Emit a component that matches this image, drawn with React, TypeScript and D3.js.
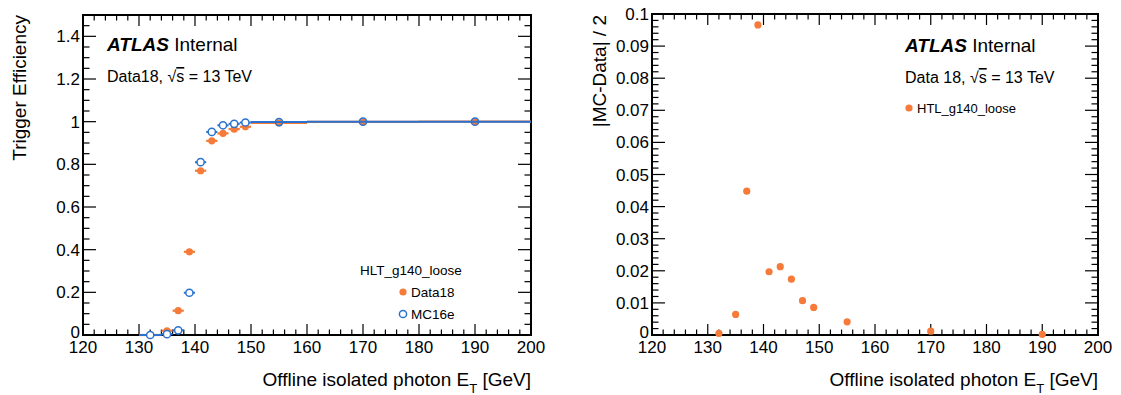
import * as d3 from 'd3';

// bins in offline photon E_T [GeV]
const binCenters = [132, 135, 137, 139, 141, 143, 145, 147, 149, 155, 170, 190];
const binLow = [130, 134, 136, 138, 140, 142, 144, 146, 148, 150, 160, 180];
const binHigh = [134, 136, 138, 140, 142, 144, 146, 148, 150, 160, 180, 200];

// trigger efficiencies
const effData18 = [0.0, 0.02, 0.114, 0.39, 0.77, 0.91, 0.945, 0.965, 0.976, 0.994, 0.999, 1.0];
const effMC16e = [0.0, 0.004, 0.022, 0.198, 0.81, 0.952, 0.983, 0.99, 0.996, 0.998, 1.0, 1.0];

// |MC - Data| / 2
const halfDiff = [0.0005, 0.0064, 0.0448, 0.0966, 0.0197, 0.0213, 0.0174, 0.0107, 0.0086, 0.0041, 0.0012, 0.0002];

const leftYTicks = [0, 0.2, 0.4, 0.6, 0.8, 1, 1.2, 1.4];
const rightYTicks = [0, 0.01, 0.02, 0.03, 0.04, 0.05, 0.06, 0.07, 0.08, 0.09, 0.1];
const xTicks = [120, 130, 140, 150, 160, 170, 180, 190, 200];

const ORANGE = '#f67b3b';
const BLUE = '#2a72cf';
const FONT = '"Liberation Sans", Arial, Helvetica, sans-serif';

type FrameProps = {
  x: d3.ScaleLinear<number, number>;
  y: d3.ScaleLinear<number, number>;
  yTicks: number[];
  yMinorStep: number;
  yFmt: (v: number) => string;
};

// ROOT-style frame: ticks on all four sides, pointing inward
const Frame = ({ x, y, yTicks, yMinorStep, yFmt }: FrameProps) => {
  const [x0, x1] = x.range();
  const [y0, y1] = y.range();
  const [ymin, ymax] = y.domain();
  const xMinor = d3.range(120, 200.001, 2);
  const yMinor = d3.range(ymin, ymax + yMinorStep * 0.01, yMinorStep);
  const isMajorX = (v: number) => Math.abs(v % 10) < 1e-6;
  const isMajorY = (v: number) => yTicks.some((t) => Math.abs(t - v) < yMinorStep * 0.01);
  return (
    <g>
      {xMinor.map((v) => {
        const len = isMajorX(v) ? 11 : 5.5;
        return (
          <g key={'xt' + v} stroke="black" strokeWidth={1.2}>
            <line x1={x(v)} x2={x(v)} y1={y0} y2={y0 - len} />
            <line x1={x(v)} x2={x(v)} y1={y1} y2={y1 + len} />
          </g>
        );
      })}
      {yMinor.map((v, i) => {
        const len = isMajorY(v) ? 13 : 6.5;
        return (
          <g key={'yt' + i} stroke="black" strokeWidth={1.2}>
            <line x1={x0} x2={x0 + len} y1={y(v)} y2={y(v)} />
            <line x1={x1} x2={x1 - len} y1={y(v)} y2={y(v)} />
          </g>
        );
      })}
      <rect x={x0} y={y1} width={x1 - x0} height={y0 - y1} fill="none" stroke="black" strokeWidth={2} />
      {xTicks.map((v) => (
        <text key={'xl' + v} x={x(v)} y={y0 + 18} textAnchor="middle" fontSize={17}>
          {v}
        </text>
      ))}
      {yTicks.map((v) => (
        <text key={'yl' + v} x={x0 - 3} y={y(v) + (v === 0 ? 3 : 6)} textAnchor="end" fontSize={17}>
          {yFmt(v)}
        </text>
      ))}
    </g>
  );
};

const XTitle = ({ xEnd }: { xEnd: number }) => (
  <text x={xEnd} y={386} textAnchor="end" fontSize={19}>
    Offline isolated photon E
    <tspan fontSize={13} dy={7}>T</tspan>
    <tspan dy={-7}> [GeV]</tspan>
  </text>
);

const Energy = ({ x, y, label }: { x: number; y: number; label: string }) => (
  <text x={x} y={y} fontSize={16}>
    {label}, √<tspan textDecoration="overline">s</tspan> = 13 TeV
  </text>
);

const Atlas = ({ x, y }: { x: number; y: number }) => (
  <text x={x} y={y} fontSize={19}>
    <tspan fontWeight="bold" fontStyle="italic">ATLAS</tspan>
    <tspan> Internal</tspan>
  </text>
);

const App = () => {
  const W = 1121;
  const H = 395;

  const xL = d3.scaleLinear().domain([120, 200]).range([83, 531]);
  const yL = d3.scaleLinear().domain([0, 1.5]).range([335, 15]);
  const xR = d3.scaleLinear().domain([120, 200]).range([652, 1098]);
  const yR = d3.scaleLinear().domain([0, 0.1]).range([335, 14]);

  return (
    <svg
      width={W}
      height={H}
      style={{ position: 'fixed', left: 0, top: 0, background: 'white' }}
      fontFamily={FONT}
    >
      {/* ---------- left: trigger efficiency ---------- */}
      <Frame x={xL} y={yL} yTicks={leftYTicks} yMinorStep={0.05} yFmt={(v) => String(+v.toFixed(1))} />

      {/* Data18 */}
      {binCenters.map((c, i) => (
        <g key={'d' + i}>
          <line x1={xL(binLow[i])} x2={xL(binHigh[i])} y1={yL(effData18[i])} y2={yL(effData18[i])} stroke={ORANGE} strokeWidth={2.2} />
          <circle cx={xL(c)} cy={yL(effData18[i])} r={3.6} fill={ORANGE} />
        </g>
      ))}
      {/* MC16e */}
      {binCenters.map((c, i) => (
        <g key={'m' + i}>
          <line x1={xL(binLow[i])} x2={xL(binHigh[i])} y1={yL(effMC16e[i])} y2={yL(effMC16e[i])} stroke={BLUE} strokeWidth={2} />
          <circle cx={xL(c)} cy={yL(effMC16e[i])} r={3.6} fill="white" fillOpacity={i >= 9 ? 0 : 1} stroke={BLUE} strokeWidth={1.5} />
        </g>
      ))}

      <Atlas x={107} y={51} />
      <Energy x={107} y={82} label="Data18" />

      <text x={360} y={275} fontSize={13.5}>HLT_g140_loose</text>
      <circle cx={403} cy={292} r={3.6} fill={ORANGE} />
      <text x={411} y={297} fontSize={13.5}>Data18</text>
      <circle cx={403} cy={314} r={3.6} fill="white" stroke={BLUE} strokeWidth={1.5} />
      <text x={411} y={319} fontSize={13.5}>MC16e</text>

      <XTitle xEnd={531} />
      <text transform="translate(26,15) rotate(-90)" textAnchor="end" fontSize={19}>
        Trigger Efficiency
      </text>

      {/* ---------- right: |MC-Data|/2 ---------- */}
      <Frame x={xR} y={yR} yTicks={rightYTicks} yMinorStep={0.002} yFmt={(v) => String(+v.toFixed(2))} />

      {binCenters.map((c, i) => (
        <circle key={'r' + i} cx={xR(c)} cy={yR(halfDiff[i])} r={3.6} fill={ORANGE} />
      ))}

      <Atlas x={905} y={52} />
      <Energy x={905} y={83} label="Data 18" />
      <circle cx={909} cy={108} r={3.6} fill={ORANGE} />
      <text x={917} y={113} fontSize={13}>HTL_g140_loose</text>

      <XTitle xEnd={1098} />
      <text transform="translate(606,15) rotate(-90)" textAnchor="end" fontSize={19}>
        |MC-Data| / 2
      </text>
    </svg>
  );
};

export default App;
